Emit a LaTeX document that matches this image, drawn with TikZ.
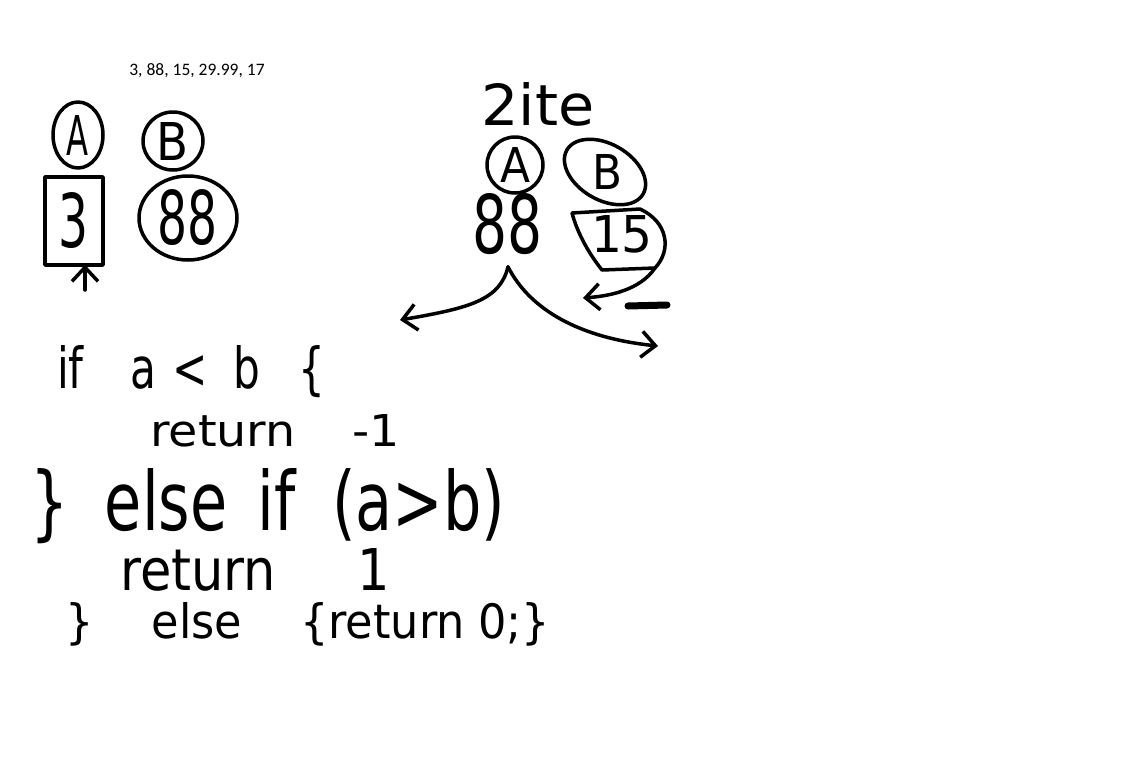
\documentclass[tikz,border=0pt]{standalone}
\usepackage{fontspec}
\setmainfont{DejaVu Sans}
\newfontfamily\printfont{Carlito}
\usetikzlibrary{shapes.geometric,arrows.meta,calc}
\newcommand\handtxt[3]{\resizebox{#1pt}{#2pt}{#3}}
\begin{document}
\begin{tikzpicture}[x=1pt,y=-1pt,
  line cap=round, line join=round,
  pen/.style={draw, line width=3.5pt},
  oval/.style={ellipse, pen, inner sep=0pt},
  word/.style={inner sep=0pt},
  line/.style={inner sep=0pt, anchor=base west},
  barb/.style={line width=3.5pt, -{Straight Barb[length=14pt,width=26pt,line width=3.5pt]}}]
\fill[white] (0,0) rectangle (1148,774);
\useasboundingbox (0,0) rectangle (1148,774);

% printed list
\node[word, font=\printfont\fontsize{17.5}{20}\selectfont] (list) at (197,71) {3, 88, 15, 29.99, 17};

% left group
\node[oval, minimum width=50pt, minimum height=66pt] (ka) at (78,135) {\handtxt{22}{40}{A}};
\node[oval, minimum width=60pt, minimum height=58pt] (kb) at (173,141) {\handtxt{32}{38}{B}};
\node[rectangle, pen, inner sep=0pt, minimum width=58pt, minimum height=88pt] (va) at (74,221) {\handtxt{30}{55}{3}};
\node[oval, minimum width=98pt, minimum height=84pt] (vb) at (188,218) {\handtxt{60}{55}{88}};
\coordinate (up) at (85,290);
\draw[barb] (up) -- ($(va.south)+(11,-2)$);

% right group
\node[word] (title) at (538,104) {\handtxt{113}{43}{2ite}};
\node[oval, minimum width=56pt, minimum height=56pt] (ka2) at (515,165) {\handtxt{30}{35}{A}};
\node[oval, minimum width=88pt, minimum height=56pt, rotate=-30] (kb2) at (605,172) {};
\node[word] (kbt) at (607,172) {\handtxt{30}{35}{B}};
\node[word] (va2) at (508,224) {\handtxt{70}{60}{88}};
\node[word] (vb2) at (622,234) {\handtxt{62}{37}{15}};
\coordinate (s1) at (572,213);
\coordinate (s2) at (640,209);
\coordinate (s3) at (655,268);
\coordinate (s4) at (602,270);
\draw[line width=3.5pt] (s1) -- (s2) .. controls (668,222) and (672,250) .. (s3) -- (s4) .. controls (590,255) and (578,235) .. (s1);
\coordinate (t15) at (583,298);
\draw[barb] (s3) .. controls (640,290) and (610,296) .. (t15);
\draw[line width=7pt] (628,306) -- (667,305);

\coordinate (split) at ($(va2.south)+(0,12)$);
\coordinate (tl) at (400,320);
\coordinate (tr) at (658,346);
\draw[barb] (split) .. controls (500,300) and (470,308) .. (tl);
\draw[barb] (split) .. controls (530,310) and (580,338) .. (tr);

% code
\node[line] (c1) at (57,388) {\handtxt{268}{43}{if\hspace{1.1em}a\hspace{0.4em}<\hspace{0.6em}b\hspace{0.9em}\{}};
\node[line] (c2) at (150,446) {\handtxt{250}{32}{return\hspace{1.2em}-1}};
\node[line] (c3) at (30,530) {\handtxt{475}{62}{\}\hspace{0.6em}else\hspace{0.5em}if\hspace{0.6em}(a>b)}};
\node[line] (c4) at (120,590) {\handtxt{270}{42}{return\hspace{1.6em}1}};
\node[line] (c5) at (65,638) {\handtxt{485}{36}{\}\hspace{1.3em}else\hspace{1.3em}\{return\hspace{0.3em}0;\}}};
\end{tikzpicture}
\end{document}
